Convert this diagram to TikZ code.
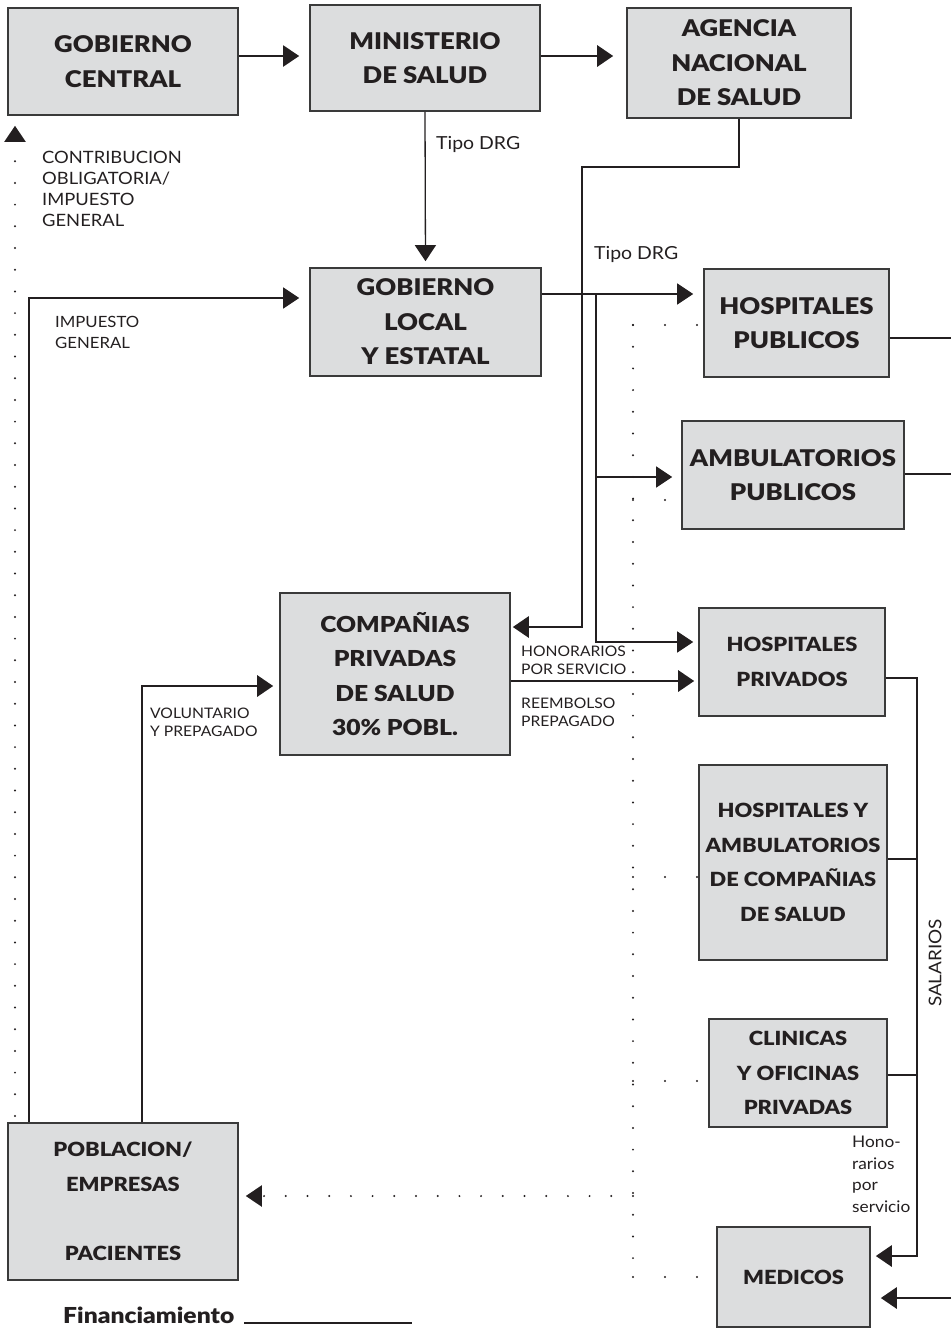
\documentclass[tikz,border=0pt]{standalone}
\usepackage{fontspec}
\setmainfont[FakeStretch=1.08]{Lato}
\IfFontExistsTF{Lato Black}
  {\newfontfamily\boxfont[FakeStretch=1.12]{Lato Black}\newcommand\boxface{\boxfont}}
  {\IfFontExistsTF{Lato Heavy}
    {\newfontfamily\boxfont[FakeStretch=1.12]{Lato Heavy}\newcommand\boxface{\boxfont}}
    {\newfontfamily\boxfont[FakeStretch=1.17,FakeBold=1.2]{Lato}\newcommand\boxface{\boxfont\bfseries}}}
\usetikzlibrary{arrows.meta}

\definecolor{ink}{HTML}{231F20}
\definecolor{boxfill}{HTML}{DCDDDE}
\definecolor{boxedge}{HTML}{3A3A3A}

\begin{document}
\begin{tikzpicture}[x=1pt,y=-1pt,
  box/.style={draw=boxedge, fill=boxfill, line width=1.6pt, inner sep=0pt,
    align=center, text=ink, font={\boxface\fontsize{23}{34.5}\selectfont}},
  boxmid/.style={box, font={\boxface\fontsize{22}{34.5}\selectfont}},
  boxsm/.style={box, font={\boxface\fontsize{19.5}{34.5}\selectfont}},
  lbl/.style={text=ink, inner sep=0pt, anchor=north west, align=left},
  thinln/.style={draw=ink, line width=1.3pt},
  midln/.style={draw=ink, line width=2pt},
  thickln/.style={draw=ink, line width=2.9pt},
  arr/.style={-{Triangle[length=16pt,width=21pt]}},
  dotln/.style={draw=ink, line width=2.2pt, line cap=round, dash pattern=on 0pt off 21.7pt},
  dotbr/.style={draw=ink, line width=2.2pt, line cap=round, dash pattern=on 0pt off 32pt}
]
\useasboundingbox (0,0) rectangle (951,1336);

% organisations
\node[box, minimum width=230pt, minimum height=107pt] (gc)    at (123,61.5)  {GOBIERNO\\CENTRAL};
\node[box, minimum width=230pt, minimum height=106pt] (ms)    at (425,58)    {MINISTERIO\\DE SALUD};
\node[box, minimum width=224pt, minimum height=110pt] (ans)   at (739,63)    {AGENCIA\\NACIONAL\\DE SALUD};
\node[box, minimum width=231pt, minimum height=108pt] (gle)   at (425.5,322) {GOBIERNO\\LOCAL\\Y ESTATAL};
\node[box, minimum width=185pt, minimum height=108pt] (hpub)  at (796.5,323) {HOSPITALES\\PUBLICOS};
\node[box, minimum width=222pt, minimum height=108pt] (apub)  at (793,475)   {AMBULATORIOS\\PUBLICOS};
\node[boxmid, minimum width=230pt, minimum height=162pt] (cps) at (395,674)   {COMPAÑIAS\\PRIVADAS\\DE SALUD\\30\% POBL.};
\node[boxsm, minimum width=186pt, minimum height=108pt] (hpriv) at (792,662)   {HOSPITALES\\PRIVADOS};
\node[boxsm, minimum width=188pt, minimum height=195pt] (hacs)  at (793,862.5) {HOSPITALES Y\\AMBULATORIOS\\DE COMPAÑIAS\\DE SALUD};
\node[boxsm, minimum width=178pt, minimum height=108pt] (clin)  at (798,1073)  {CLINICAS\\Y OFICINAS\\PRIVADAS};
\node[boxsm, minimum width=230pt, minimum height=157pt] (pob)   at (123,1201.5) {POBLACION/\\EMPRESAS\\[34.5pt]PACIENTES};
\node[boxsm, minimum width=153pt, minimum height=100pt] (med)   at (793.5,1277) {MEDICOS};

% bends and free ends of the connectors
\coordinate (k1) at (582,167);
\coordinate (br) at (596,294);
\coordinate (ba) at (596,477);
\coordinate (sb) at (917,1256);
\coordinate (eh) at (951,338);
\coordinate (ea) at (951,474);
\coordinate (em) at (951,1298);
\coordinate (dt) at (633,325);
\coordinate (dA) at (633,500);
\coordinate (dH) at (633,877);
\coordinate (dC) at (633,1081);
\coordinate (dP) at (633,1196);
\coordinate (db) at (633,1277);
\coordinate (lu) at (15,1116);

% financing flows
\draw[midln, arr, shorten >=10pt] (gc.east |- 0,56) -- (ms.west |- 0,56);
\draw[thickln, arr, shorten >=13pt] (ms.east |- 0,56) -- (ans.west |- 0,56);
\draw[thinln, arr, shorten >=6pt] (ms.south) -- (gle.north);
\draw[thickln, arr, shorten >=2pt] (ans.south) |- (k1) |- (cps.east |- 0,627);
\draw[thinln, arr, shorten >=10pt] (gle.east |- br) -- (hpub.west |- br);
\draw[thinln, arr, shorten >=5pt] (br) |- (hpriv.west |- 0,642);
\draw[thinln, arr, shorten >=9pt] (ba) -- (apub.west |- ba);
\draw[thickln, arr, shorten >=4pt] (cps.east |- 0,681) -- (hpriv.west |- 0,681);
\draw[thinln, arr, shorten >=10pt] (pob.north -| 29,0) |- (gle.west |- 0,298);
\draw[thickln, arr, shorten >=6pt] (pob.north -| 142,0) |- (cps.west |- 0,686);
\draw[dotln, arr, shorten >=10pt] (lu) -- (gc.south -| lu);

% payments to staff
\draw[thickln, arr, shorten >=5pt] (hpriv.east |- 0,678) -| (sb) -- (med.east |- sb);
\draw[thickln] (hacs.east |- 0,859) -- (sb |- 0,859);
\draw[thickln] (clin.east |- 0,1075) -- (sb |- 0,1075);
\draw[thickln] (hpub.east |- eh) -- (eh);
\draw[thickln] (apub.east |- ea) -- (ea);
\draw[thickln, arr, shorten >=10pt] (em) -- (med.east |- em);

% services to patients
\draw[dotln] (dt) -- (db);
\draw[dotbr] (dt) -- (hpub.west |- dt);
\draw[dotbr] (dA) -- (apub.west |- dA);
\draw[dotbr] (dH) -- (hacs.west |- dH);
\draw[dotbr] (dC) -- (clin.west |- dC);
\draw[dotbr] (db) -- (med.west |- db);
\draw[dotln, arr, shorten >=7pt] (dP) -- (pob.east |- dP);

% labels
\node[lbl, font={\fontsize{17}{21}\selectfont}] (tcon) at (42,151) {CONTRIBUCION\\OBLIGATORIA/\\IMPUESTO\\GENERAL};
\node[lbl, font={\fontsize{15.5}{21}\selectfont}] (timp) at (55,316) {IMPUESTO\\GENERAL};
\node[lbl, font={\fontsize{14.5}{18}\selectfont}] (tvol) at (150,708) {VOLUNTARIO\\Y PREPAGADO};
\node[lbl, font={\fontsize{14.5}{18}\selectfont}] (thon) at (521,646) {HONORARIOS\\POR SERVICIO};
\node[lbl, font={\fontsize{14.5}{18}\selectfont}] (tree) at (521,698) {REEMBOLSO\\PREPAGADO};
\node[text=ink, inner sep=0pt, anchor=west, font={\fontsize{18}{22}\selectfont}] (drg1) at (436,144) {Tipo DRG};
\node[text=ink, inner sep=0pt, anchor=west, font={\fontsize{18}{22}\selectfont}] (drg2) at (594,254) {Tipo DRG};
\node[text=ink, inner sep=0pt, rotate=90, font={\fontsize{17.5}{20}\selectfont}] (tsal) at (935,963) {SALARIOS};
\node[lbl, font={\fontsize{16}{21.5}\selectfont}] (thps) at (852,1136) {Hono-\\rarios\\por\\servicio};

% legend
\node[text=ink, inner sep=0pt, anchor=west, font={\boxface\fontsize{22}{24}\selectfont}] (leg) at (63,1315) {Financiamiento};
\coordinate (legend end) at (412,1322);
\draw[thickln, line width=2.6pt] (leg.base east -| 244,0) -- (leg.base east -| legend end);
\end{tikzpicture}
\end{document}
